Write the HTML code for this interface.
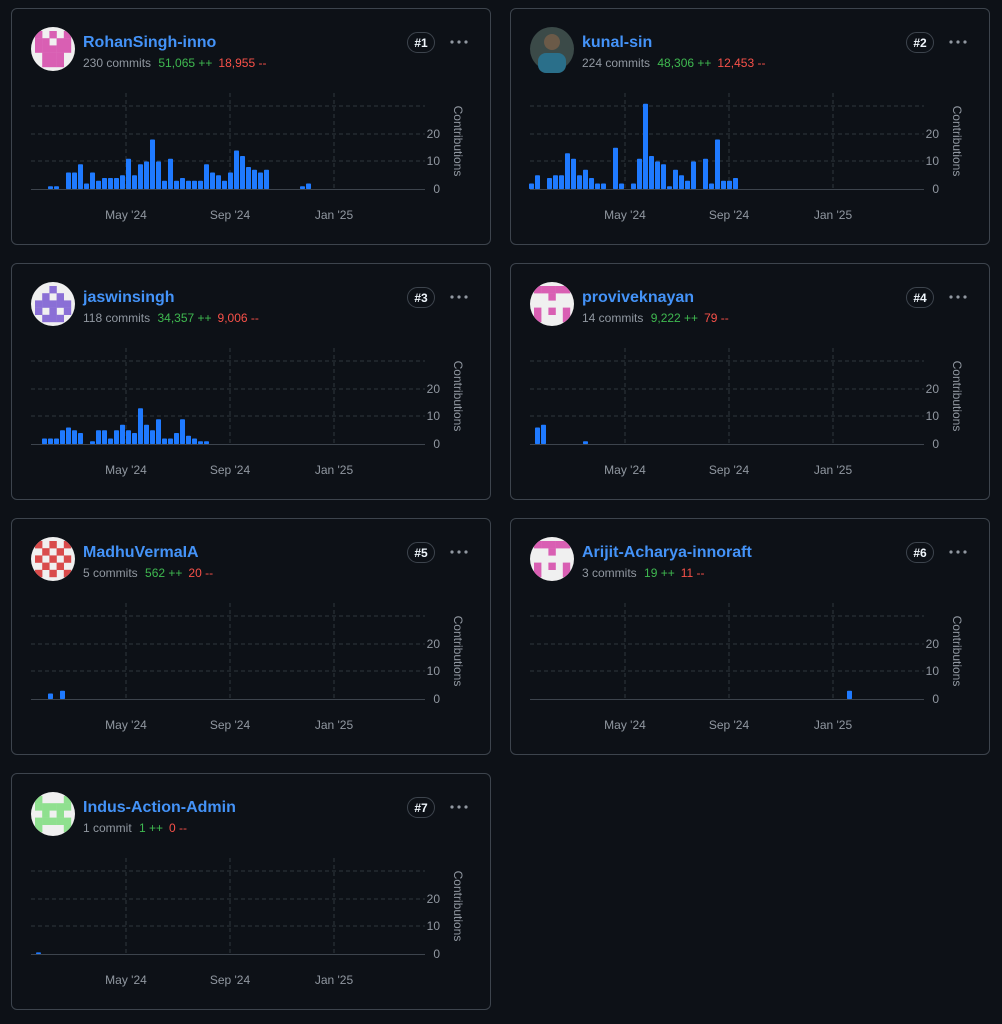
<!DOCTYPE html><html><head><style>
body{margin:0;background:#0d1117;width:1002px;height:1024px;overflow:hidden;font-family:"Liberation Sans",sans-serif}
.card{position:absolute;width:478px;height:235px;border:1px solid #3d444d;border-radius:6px;background:#0d1117}
svg{position:absolute;left:0;top:0}
</style></head><body><div id="root"></div>
<script>
const cards=[
{n:"RohanSingh-inno",c:"230 commits",a:"51,065",d:"18,955",x:11,y:8,col:"#d95fb3",pat:"t",b:[0,0,0,1,1,0,6,6,9,2,6,3,4,4,4,5,11,5,9,10,18,10,3,11,3,4,3,3,3,9,6,5,3,6,14,12,8,7,6,7,0,0,0,0,0,1,2]},
{n:"kunal-sin",c:"224 commits",a:"48,306",d:"12,453",x:510,y:8,col:"photo",b:[2,5,0,4,5,5,13,11,5,7,4,2,2,0,15,2,0,2,11,31,12,10,9,1,7,5,3,10,0,11,2,18,3,3,4]},
{n:"jaswinsingh",c:"118 commits",a:"34,357",d:"9,006",x:11,y:263,col:"#8a6fd6",pat:"a",b:[0,0,2,2,2,5,6,5,4,0,1,5,5,2,5,7,5,4,13,7,5,9,2,2,4,9,3,2,1,1]},
{n:"proviveknayan",c:"14 commits",a:"9,222",d:"79",x:510,y:263,col:"#d95fb3",pat:"p",b:[0,6,7,0,0,0,0,0,0,1]},
{n:"MadhuVermaIA",c:"5 commits",a:"562",d:"20",x:11,y:518,col:"#d94b4b",pat:"c",b:[0,0,0,2,0,3]},
{n:"Arijit-Acharya-innoraft",c:"3 commits",a:"19",d:"11",x:510,y:518,col:"#d95fb3",pat:"p",b:Array(53).fill(0).concat([3])},
{n:"Indus-Action-Admin",c:"1 commit",a:"1",d:"0",x:11,y:773,col:"#8fe08f",pat:"h",b:[0,0.6]}];
const pats={t:[[1,0,1,0,1],[1,1,0,1,1],[1,1,1,1,1],[0,1,1,1,0],[0,1,1,1,0]],a:[[0,0,1,0,0],[0,1,0,1,0],[1,1,1,1,1],[1,0,1,0,1],[0,1,1,1,0]],p:[[1,1,1,1,1],[0,0,1,0,0],[0,0,0,0,0],[1,0,1,0,1],[1,0,0,0,1]],c:[[1,0,1,0,1],[0,1,0,1,0],[1,0,1,0,1],[0,1,0,1,0],[1,0,1,0,1]],h:[[1,0,0,0,1],[1,1,1,1,1],[0,1,0,1,0],[1,1,1,1,1],[1,0,0,0,1]]};
let h="";
cards.forEach((c,i)=>{
let s=`<svg width="480" height="237" font-family="Liberation Sans, sans-serif">`;
s+=`<clipPath id="cp${i}"><circle cx="41" cy="40" r="22"/></clipPath>`;
if(c.col=="photo"){s+=`<circle cx="41" cy="40" r="22" fill="#3b4a48"/><circle cx="41" cy="33" r="8" fill="#6b5a48"/><rect x="27" y="44" width="28" height="20" rx="8" fill="#2a6f8a"/>`;}
else{s+=`<circle cx="41" cy="40" r="22" fill="#f0f0f0"/><g clip-path="url(#cp${i})">`;const p=pats[c.pat];
for(let r=0;r<5;r++)for(let q=0;q<5;q++)if(p[r][q])s+=`<rect x="${23+q*7.2}" y="${22+r*7.2}" width="7.4" height="7.4" fill="${c.col}"/>`;s+=`</g>`;}
s+=`<text x="71" y="38" font-size="16" font-weight="bold" fill="#4493f8">${c.n}</text>`;
s+=`<text x="71" y="58" font-size="12" fill="#9198a1">${c.c} <tspan fill="#3fb950" dx="4">${c.a} ++</tspan><tspan fill="#f85149" dx="6">${c.d} --</tspan></text>`;
s+=`<rect x="395.5" y="23.5" width="27" height="20" rx="10" fill="none" stroke="#3d444d"/><text x="409" y="38" font-size="12" font-weight="bold" fill="#f0f6fc" text-anchor="middle">#${i+1}</text>`;
s+=`<g fill="#9198a1"><circle cx="440" cy="33" r="1.6"/><circle cx="447" cy="33" r="1.6"/><circle cx="454" cy="33" r="1.6"/></g>`;
[97,125,152].forEach(y=>s+=`<line x1="19" x2="413" y1="${y}" y2="${y}" stroke="#30363d" stroke-dasharray="4 3"/>`);
[114,218,322].forEach(x=>s+=`<line x1="${x}" x2="${x}" y1="84" y2="180" stroke="#30363d" stroke-dasharray="4 3"/>`);
s+=`<line x1="19" x2="413" y1="180.5" y2="180.5" stroke="#3d444d"/>`;
c.b.forEach((v,k)=>{if(v>0){const hh=v*2.75;s+=`<rect x="${18+6*k}" y="${180-hh}" width="5" height="${hh}" rx="0.8" fill="#1f7aff"/>`;}});
[["20",129],["10",156],["0",184]].forEach(t=>s+=`<text x="428" y="${t[1]}" font-size="12" fill="#9198a1" text-anchor="end">${t[0]}</text>`);
s+=`<text transform="translate(442,132) rotate(90)" font-size="12" fill="#9198a1" text-anchor="middle">Contributions</text>`;
[["May '24",114],["Sep '24",218],["Jan '25",322]].forEach(t=>s+=`<text x="${t[1]}" y="210" font-size="12" fill="#9198a1" text-anchor="middle">${t[0]}</text>`);
s+=`</svg>`;
h+=`<div class="card" style="left:${c.x}px;top:${c.y}px">${s}</div>`;});
document.getElementById("root").innerHTML=h;
</script></body></html>
